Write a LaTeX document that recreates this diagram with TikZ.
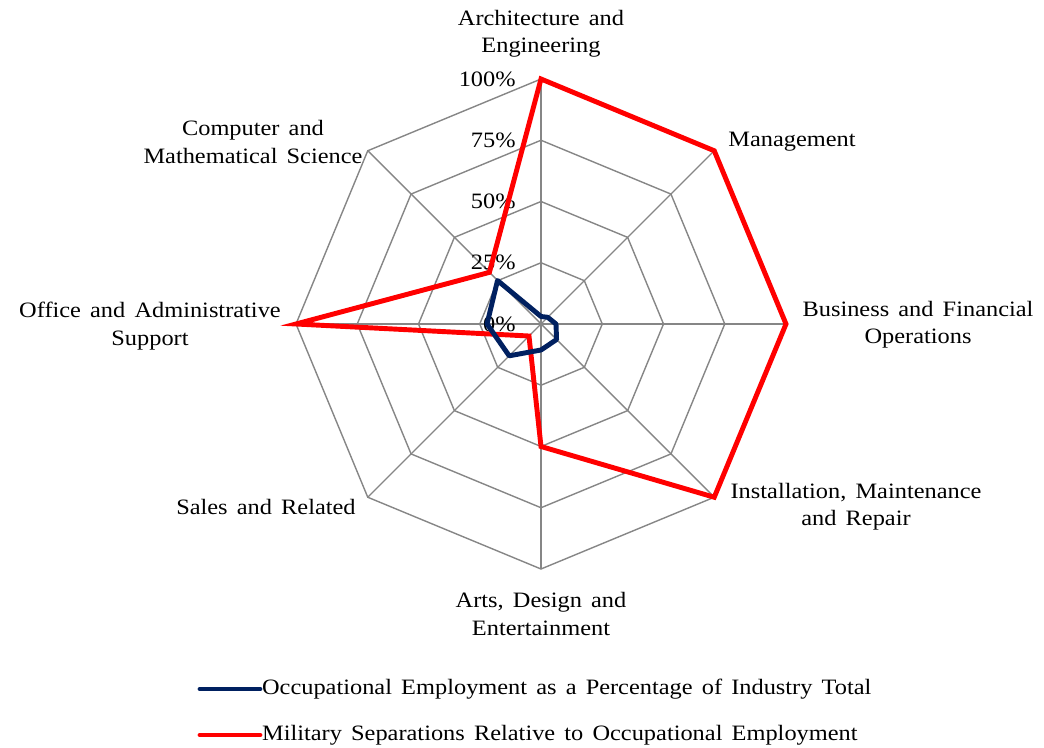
\documentclass[tikz,border=0pt]{standalone}
\usepackage{fontspec}
\setmainfont{Liberation Serif}[FakeStretch=1.11, WordSpace=1.5]
\definecolor{gridgray}{RGB}{134,134,134}
\definecolor{navy}{RGB}{0,32,96}
\tikzset{
	gridline/.style={draw=gridgray, line width=0.8pt},
	employ/.style={draw=navy, line width=2.8pt, line join=round},
	separ/.style={draw=red, line width=2.8pt, line join=miter},
	catlabel/.style={font=\fontsize{12.5}{15.5}\selectfont, align=center, inner sep=0pt},
	pctlabel/.style={font=\fontsize{12.5}{15}\selectfont, anchor=east, inner sep=0pt},
	legtext/.style={font=\fontsize{12.5}{15}\selectfont, anchor=west, inner sep=1pt}
}
\begin{document}
\begin{tikzpicture}[x=0.02cm, y=0.02cm]
				\useasboundingbox (0,0) rectangle (1044,747);
				\begin{scope}[shift={(541,423)}]
				\foreach \r in {61.25,122.5,183.75,245}
					\draw[gridline] (90:\r) -- (45:\r) -- (0:\r) -- (-45:\r) -- (-90:\r) -- (-135:\r) -- (180:\r) -- (135:\r) -- cycle;
				\foreach \a in {90,45,...,-225}
					\draw[gridline] (0,0) -- (\a:245);
				\foreach \p/\r in {0/0,25/61.25,50/122.5,75/183.75,100/245}
					\node[pctlabel] (pct\p) at (-25,\r) {\p\%};
				\draw[separ] (90:245) -- (45:245) -- (0:245) -- (-45:245) -- (-90:122.5) -- (-135:17) -- (180:245) -- (135:73) -- cycle;
				\draw[employ] (90:7.5) -- (45:9.5) -- (0:15) -- (-45:22) -- (-90:26) -- (-135:45) -- (180:54) -- (135:61.5) -- cycle;
				\end{scope}
				\node[catlabel] (arch) at (541,713) {Architecture and\\Engineering};
				\node[catlabel, anchor=west] (mgmt) at (728,605) {Management};
				\node[catlabel] (bus) at (918,422) {Business and Financial\\Operations};
				\node[catlabel] (inst) at (856,240) {Installation, Maintenance\\and Repair};
				\node[catlabel] (arts) at (541,133) {Arts, Design and\\Entertainment};
				\node[catlabel, anchor=east] (sales) at (356,240) {Sales and Related};
				\node[catlabel] (office) at (150,421) {Office and Administrative\\Support};
				\node[catlabel] (comp) at (253,605) {Computer and\\Mathematical Science};
				\node[legtext] (leg1) at (260,58) {Occupational Employment as a Percentage of Industry Total};
				\node[legtext] (leg2) at (260,12) {Military Separations Relative to Occupational Employment};
				\coordinate (k1) at (200,58);
				\coordinate (k2) at (200,12);
				\draw[employ, line cap=round] (k1) -- (leg1.west);
				\draw[separ, line cap=round] (k2) -- (leg2.west);
				\end{tikzpicture}
\end{document}
